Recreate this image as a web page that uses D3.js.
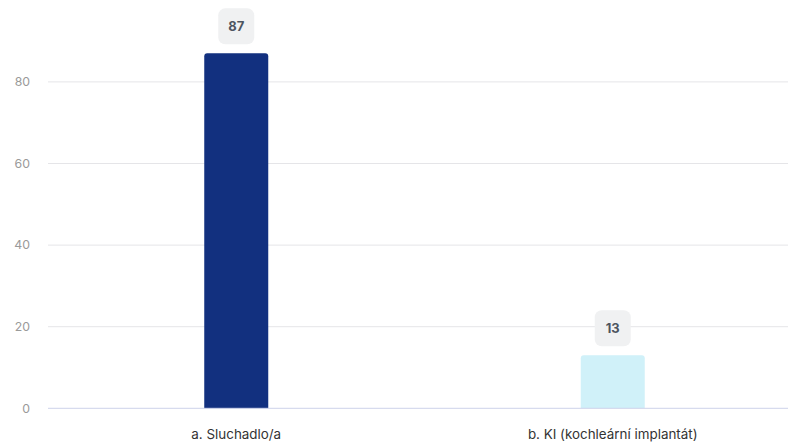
<!DOCTYPE html>
<html>
<head>
<meta charset="utf-8">
<script src="https://cdn.jsdelivr.net/npm/d3@7"></script>
<style>
  body { margin: 0; background: #fff; }
  svg { display: block; font-family: Inter, "Noto Sans", sans-serif; }
</style>
</head>
<body>
<div id="chart-area"></div>
<script>
const categories = ['a. Sluchadlo/a', 'b. KI (kochleární implantát)'];
const values = [87, 13];
const barColors = ['#12307f', '#d0f1f9'];
const yTicks = [0, 20, 40, 60, 80];

const W = 788, H = 446;
const margin = { left: 48, right: -13, top: 0.3, bottom: 37.7 };
const width = W - margin.left - margin.right,
  height = H - margin.top - margin.bottom;

let svg = d3.select('#chart-area')
  .append('svg')
  .attr('width', W)
  .attr('height', H);

let g = svg.append('g')
  .attr('transform', `translate(${margin.left}, ${margin.top})`);

let x = d3.scaleBand()
  .domain(categories)
  .range([0, width])
  .paddingInner(0.83)
  .paddingOuter(0.415);

let y = d3.scaleLinear()
  .domain([0, 100])
  .range([height, 0]);

// gridlines
g.append('g')
  .selectAll('line')
  .data(yTicks.filter(d => d !== 0))
  .join('line')
  .attr('x1', 0)
  .attr('x2', W - margin.left)
  .attr('y1', d => y(d))
  .attr('y2', d => y(d))
  .attr('stroke', '#e5e5e8')
  .attr('stroke-width', 1);

// y tick labels
g.append('g')
  .selectAll('text')
  .data(yTicks)
  .join('text')
  .attr('x', -18)
  .attr('y', d => y(d))
  .attr('dy', '0.35em')
  .attr('text-anchor', 'end')
  .attr('fill', '#9a9a9a')
  .style('font-size', '12.3px')
  .text(d => d);

// bars with rounded top corners
function barPath(x0, y0, w, h, r) {
  return `M${x0},${y0 + h}V${y0 + r}Q${x0},${y0} ${x0 + r},${y0}H${x0 + w - r}Q${x0 + w},${y0} ${x0 + w},${y0 + r}V${y0 + h}Z`;
}

g.append('g')
  .selectAll('path')
  .data(values)
  .join('path')
  .attr('d', (d, i) => barPath(x(categories[i]), y(d), x.bandwidth(), y(0) - y(d), 3))
  .attr('fill', (d, i) => barColors[i]);

// baseline
g.append('line')
  .attr('x1', 0)
  .attr('x2', W - margin.left)
  .attr('y1', y(0))
  .attr('y2', y(0))
  .attr('stroke', '#cdd3ea')
  .attr('stroke-width', 1);

// value labels
let lab = g.append('g')
  .selectAll('g')
  .data(values)
  .join('g')
  .attr('transform', (d, i) => `translate(${x(categories[i]) + x.bandwidth() / 2}, ${y(d) - 27})`);

lab.append('rect')
  .attr('x', -18)
  .attr('y', -18)
  .attr('width', 36)
  .attr('height', 36)
  .attr('rx', 7)
  .attr('fill', '#f0f1f2');

lab.append('text')
  .attr('text-anchor', 'middle')
  .attr('dy', '0.36em')
  .attr('fill', '#4d5560')
  .style('font-size', '13px')
  .style('font-weight', 700)
  .text(d => d);

// x labels
g.append('g')
  .selectAll('text')
  .data(categories)
  .join('text')
  .attr('x', d => x(d) + x.bandwidth() / 2)
  .attr('y', height + 31)
  .attr('text-anchor', 'middle')
  .attr('fill', '#333')
  .style('font-size', '13.4px')
  .text(d => d);
</script>
</body>
</html>
